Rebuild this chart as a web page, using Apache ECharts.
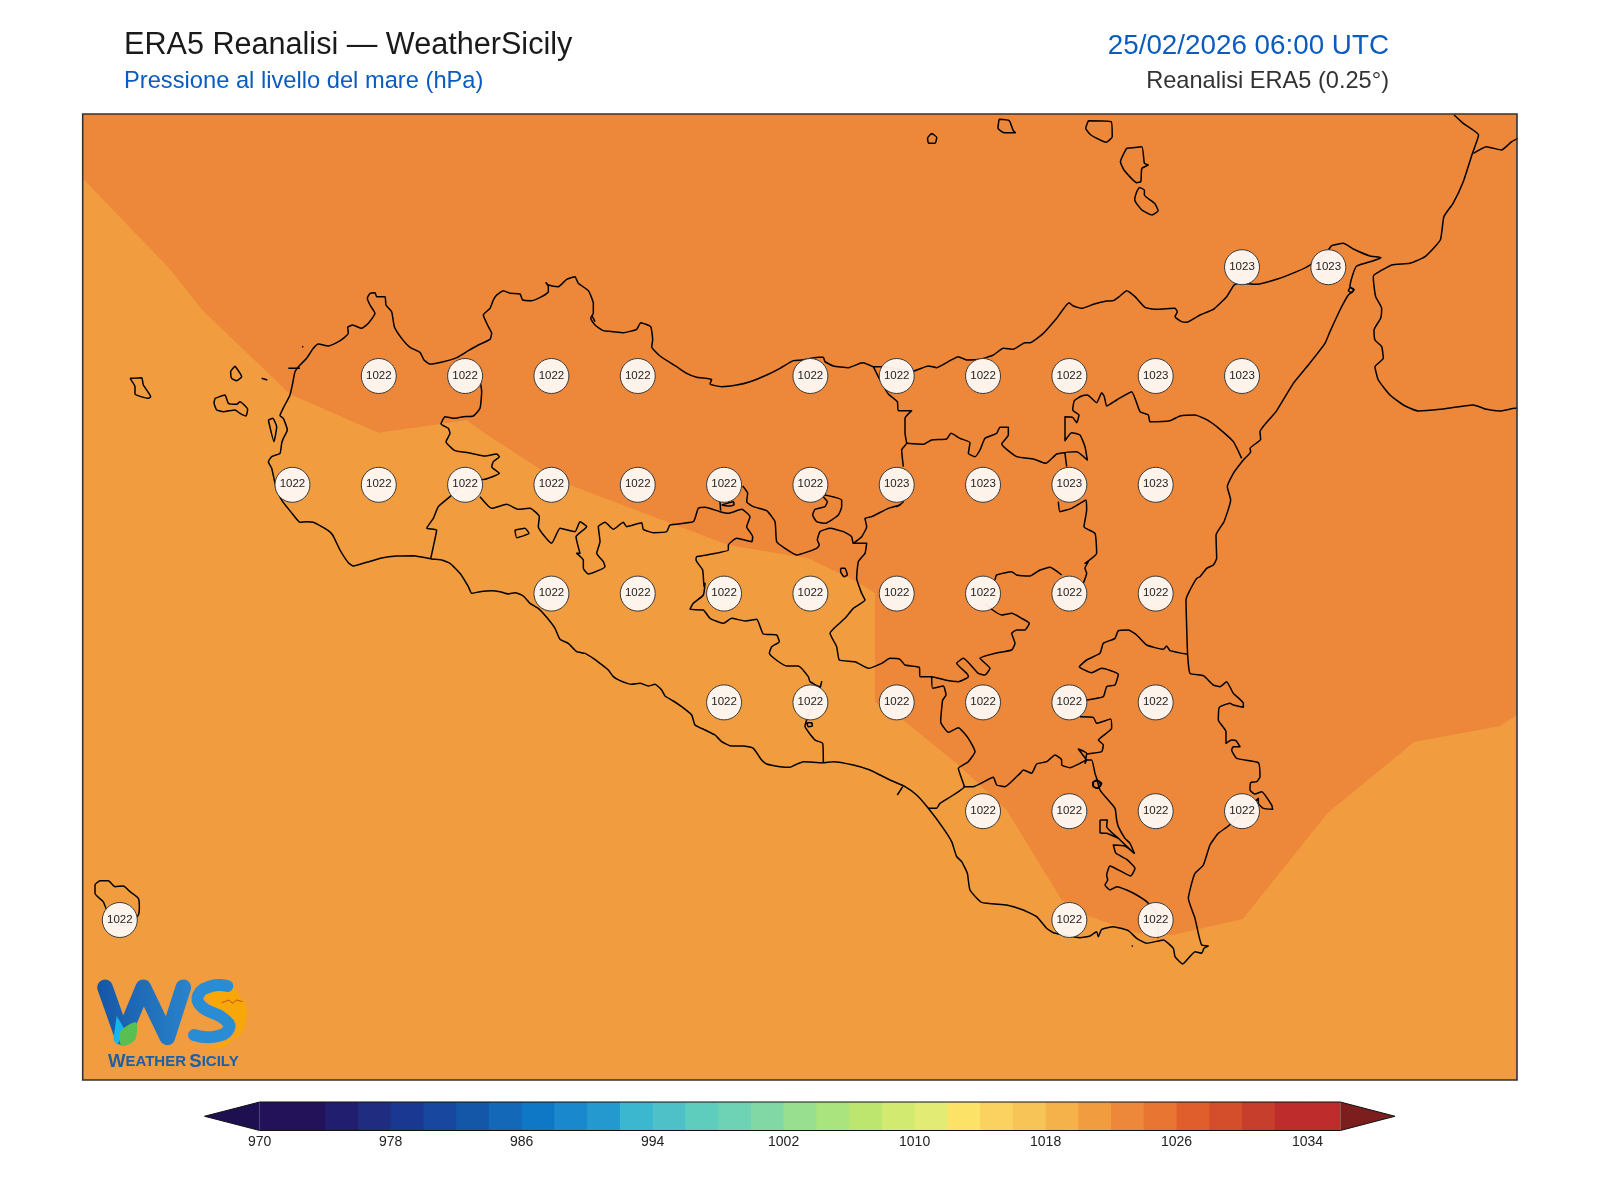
<!DOCTYPE html>
<html>
  <head>
    <meta charset="utf-8" />
    <title>ERA5 Reanalisi - WeatherSicily</title>
    <script src="https://cdn.jsdelivr.net/npm/echarts@6/dist/echarts.min.js"></script>
    <style>
      body { margin: 0; background: #fff; }
      #main { width: 1600px; height: 1200px; }
    </style>
  </head>
  <body>
    <div id="main"></div>
    <script type="text/javascript">
      // ---- values ----
      const stationLon = [15.25,15.5,
        12.75,13,13.25,13.5,14,14.25,14.5,14.75,15,15.25,
        12.5,12.75,13,13.25,13.5,13.75,14,14.25,14.5,14.75,15,
        13.25,13.5,13.75,14,14.25,14.5,14.75,15,
        13.75,14,14.25,14.5,14.75,15,
        14.5,14.75,15,15.25,
        12,14.75,15];
      const stationLat = [38.25,38.25,
        38,38,38,38,38,38,38,38,38,38,
        37.75,37.75,37.75,37.75,37.75,37.75,37.75,37.75,37.75,37.75,37.75,
        37.5,37.5,37.5,37.5,37.5,37.5,37.5,37.5,
        37.25,37.25,37.25,37.25,37.25,37.25,
        37,37,37,37,
        36.75,36.75,36.75];
      const stationHpa = [1023,1023,
        1022,1022,1022,1022,1022,1022,1022,1022,1023,1023,
        1022,1022,1022,1022,1022,1022,1022,1023,1023,1023,1023,
        1022,1022,1022,1022,1022,1022,1022,1022,
        1022,1022,1022,1022,1022,1022,
        1022,1022,1022,1022,
        1022,1022,1022];

      // colorbar
      const barLevels = [970,972,974,976,978,980,982,984,986,988,990,992,994,996,998,1000,1002,
        1004,1006,1008,1010,1012,1014,1016,1018,1020,1022,1024,1026,1028,1030,1032,1034];
      const barColors = ["#23125a","#23125a","#211e70","#1f2c80","#1a3892","#17479f","#1457a8","#1468b8","#0f78c6",
        "#1a88cd","#2499d0","#3bb7d0","#4dc0c8","#5fcdbe","#6ed2b5","#82d8a4","#98e090",
        "#aae47e","#bde66e","#d2ea70","#e2ec74","#fde268","#fbd25f","#f6c457","#f5b24b",
        "#f29c40","#ed8739","#e87532","#df5e2b","#d44e2c","#c83e2c","#be2c2b","#be2c2b"];
      const barTicks = [970,978,986,994,1002,1010,1018,1026,1034];
      const barLow = 966.63, barHigh = 1039.34, barTop = 1036;

      // ---- outlines, traced off crops of the map ----
      // a crop gives lon/lat back through its offset and stretch
      const lonAtZero = 11.65306, lonPerUnit = 1 / 345.3;
      const latAtZero = 38.86397, latPerUnit = 1 / 435.2;
      const A = [80,270,3,3], B = [480,270,3,3], C = [880,270,3,3], D = [1200,230,3,3], E = [420,540,3,3],
        F = [820,560,3,3], G = [880,740,3,3], H = [800,0,1.96,3], I = [80,850,3,3], W = [0,0,1,1];

      function trace(crop, flat) {
        const out = [];
        for (let i = 0; i < flat.length; i += 2) {
          out.push([
            lonAtZero + (crop[0] + flat[i] / crop[2]) * lonPerUnit,
            latAtZero - (crop[1] + flat[i + 1] / crop[3]) * latPerUnit,
          ]);
        }
        return out;
      }
      function ring(pts) { return pts.concat([pts[0]]); }

      // pressure band 1022-1024, everything else on the map is 1020-1022
      const contourBand = trace(W, [82.7,114,82.7,178.6,168.4,267.3,204,311.7,290,394,378.3,432.7,440,424,466.7,420,480,430,
        538.3,468,570,485,666.7,521.7,728.3,545,808.3,558.3,856.7,581.7,875,593.3,875,702,903.3,720,958.3,765,1006.7,810,
        1061.7,900,1080,913,1136.7,933,1173,935,1242.7,919,1327.6,813,1414,742,1500,726,1517,715,1517,114]);

      const sicilyCoast = [].concat(
        trace(A, [1000,857,950,858,905,864,860,877,820,888,805,878,780,840,758,795,745,782,725,770,700,757,680,755,660,757,640,735,620,710,608,695,590,660,
          575,595,565,575,575,560,600,550,605,520,610,505,622,480,610,445,600,437,612,410,630,375,638,340,645,305,660,285,680,265,700,235,715,222,745,228,770,218,
          790,205,805,190,803,172,818,165,845,175,865,160,885,130,870,105,862,85,870,70,885,68,890,80,915,80,918,105,935,125,943,170,965,205,990,232,1020,247,
          1032,270,1050,282,1090,275,1130,263,1165,242,1195,225,1230,208,1235,190,1225,170,1210,135,1230,115,1240,90]),
        trace(B, [50,75,70,62,90,70,120,72,128,90,155,92,185,80,205,65,205,50,198,38,205,45,235,50,260,28,285,20,295,40,325,62,340,100,340,130,332,145,345,165,370,182,400,185,430,188,
          470,178,482,158,512,170,518,210,515,230,540,258,590,290,620,310,650,322,695,328,690,342,725,350,770,345,810,335,860,315,900,295,940,272,965,270,1015,262,1030,262,
          1035,275,1060,288,1105,293,1140,280,1150,278,1180,290,1205,290]),
        trace(C, [100,303,145,288,170,293,210,272,235,260,260,270,300,268,340,255,370,235,400,238,435,218,450,218,490,190,530,145,567,98,580,108,605,115,640,103,680,93,700,92,720,78,740,62,
          765,80,795,112,830,118,885,115,892,125,885,140,905,155,920,157,960,135,1000,118,1040,80,1062,45]),
        trace(D, [115,160,170,163,230,148,290,125,330,105,385,60,395,47,430,40,460,57,510,78,543,83,520,92,470,108,458,135,450,170,462,180,445,195,420,240,390,305,375,340,325,405,280,460,
          228,545,180,605,182,628,150,655,152,665,130,690,100,730,82,770,92,810,72,875,48,915,50,985,40,1005,20,1015,0,1040]),
        trace(F, [1130,55,1105,100,1098,120,1100,200,1103,285,1110,340,1150,347,1180,375]),
        trace(D, [60,1370,80,1355,100,1390,130,1420,130,1432,100,1425,90,1420,58,1432,55,1470,78,1505,78,1540,95,1530,108,1532,120,1550,100,1550,95,1560]),
        trace(G, [1055,30,1070,55,1135,68,1140,110,1130,125,1112,128,1110,150,1125,162,1145,155,1175,195,1178,208,1150,205,1135,190,1135,175,1045,258,1015,280,990,315,970,375,945,400,935,430,
          925,475,945,535,955,580,965,615,985,618,972,625,965,640,945,635,908,672,885,650,880,625,850,600,800,610,770,595,745,572,700,560,665,568,655,590,650,575,630,588,600,593,520,578,
          500,565,470,530,430,510,380,495,305,487,270,450,262,400,245,365,230,350,215,305,190,265,145,205,110,165,75,140,30,120,0,105]),
        trace(F, [150,630,100,615,40,605,8,608]),
        trace(E, [1150,665,1125,675,1110,682,1080,680,1040,672,1025,660,1000,625,970,618,930,617,905,605,885,585,855,570,825,555,815,525,785,500,760,483,735,468,725,450,705,433,685,438,
          660,430,635,433,600,422,580,410,565,390,540,370,520,355,495,340,470,335,445,310,420,298,405,265,380,232,355,205,330,190,310,168,285,158,265,162,240,155,215,152,180,155,155,160,
          145,140,120,100,90,70,65,60,35,57,0,50])
      );

      const calabriaCoast = [].concat(
        trace(H, [1282,345,1300,370,1330,405,1318,460,1300,545,1280,610,1262,650,1255,720,1225,770,1195,790,1160,795,1125,825]),
        trace(D, [520,145,527,200,545,235,542,265,522,300,525,330,545,350,550,385,525,410,535,450,570,495,610,525,655,543,720,538,820,525,860,538,900,543,945,535,952,535])
      );
      const calabriaBorder = trace(H, [1320,460,1345,440,1375,450,1395,425,1407,415]);

      const islands = [
        trace(H, [258,400,268,412,265,430,252,430,250,415]),
        trace(H, [390,358,410,362,418,392,422,398,400,398,388,385]),
        trace(H, [565,362,610,365,612,410,600,427,570,405,560,385]),
        trace(H, [640,445,670,440,675,490,683,495,670,505,668,545,660,548,635,510,628,485]),
        trace(H, [665,562,675,570,675,585,695,610,702,632,690,645,670,630,656,600,660,575]),
        trace(A, [405,385,435,375,445,400,470,403,480,395,503,418,498,438,480,430,465,420,430,425,410,420,402,398]),
        trace(A, [465,288,485,320,470,332,455,325,452,305]),
        trace(A, [150,325,185,323,190,345,212,380,205,385,165,372,165,350]),
        trace(A, [565,450,578,445,590,470,582,515]),
        trace(I, [70,155,45,130,45,105,60,92,85,92,105,110,130,108,150,125,175,145,178,170,175,195,150,225,118,225,90,200]),
        // lakes
        trace(B, [1082,895,1095,895,1102,915,1092,920,1082,905]),
        trace(B, [105,780,135,775,147,790,110,803]),
        trace(B, [1035,675,1085,690,1085,710,1075,735,1035,760,1010,755,998,735,1005,718,1035,710,1042,695,1030,680]),
        trace(E, [1160,548,1175,548,1177,558,1165,560]),
        trace(F, [830,660,845,670,835,685,820,680,818,668]),
        trace(G, [640,125,655,122,662,135,650,145,640,138]),
        trace(B, [725,705,760,695,762,705,745,708]),
        trace(F, [800,600,775,567,800,580,795,610]),
        trace(D, [450,172,462,178,455,188,445,182]),
      ];

      const specks = [
        trace(A, [545,325,562,330]),
        trace(A, [625,295,660,295]),
        trace(A, [666,230,670,230]),
        trace(G, [755,618,759,618]),
        trace(B, [335,135,345,155]),
        trace(F, [232,705,248,680]),
      ];

      const borders = [
        trace(A, [1200,330,1205,365,1200,415,1180,438,1150,440,1125,445,1095,440,1083,462,1105,475,1110,490,1098,515,1125,542,1165,548,1215,558,1250,552,1258,560,1240,575,1235,590,1258,610,1215,628,1170,630]),
        trace(A, [1140,650,1110,680,1075,710,1060,745,1040,775,1070,780,1060,830,1052,866]),
        [].concat(
          trace(B, [0,680,35,715,80,703,115,718,150,715,178,740,175,770,215,820,240,775,285,785,300,755,320,770,288,800,300,850,290,850,310,870,310,895,325,912,375,890,370,875,350,850,360,815,355,770,
            375,757,400,778,430,757,440,770,485,758,490,778,520,788,560,785,570,765,640,755,655,715,675,712,720,725,745,730,785,718,810,740,800,770,818,800,815,815,770,805,745,825,745,840,680,855,650,860,648,870,668,900,672,950]),
          trace(E, [855,130,850,165,820,190,810,208,850,210,870,235,910,250,935,235,975,243,1010,238,1030,282,1070,285,1078,305,1055,320,1048,340,1100,378,1135,378,1165,410,1170,425,1200,440,1205,425,1200,445,1185,480,1155,558,1185,600,1208,610,1210,668])
        ),
        trace(B, [720,695,722,722]),
        [].concat(
          trace(B, [788,648,803,670,800,695,820,710,860,722,885,755,890,815,915,835,950,855,1010,835,1018,825,1012,810,1020,785,1050,775,1090,785,1115,800,1120,820,1160,820,1155,850,1135,875,1130,925]),
          trace(E, [1325,160,1335,180,1300,205,1275,235,1245,262,1230,280,1250,320,1258,360,1305,365,1345,385,1385,370,1410,355,1440,358]),
          trace(F, [255,315,298,322,300,350,335,350,375,360,415,365,445,350,440,340,410,310,430,295,475,340,495,345,510,325,480,295,525,280,575,270,585,250,575,220,590,210,615,210,628,190,605,175,575,160,545,165,518,150,495,130])
        ),
        [].concat(
          trace(B, [1120,820,1145,800,1160,770,1155,745,1175,740,1225,715,1260,705]),
          trace(C, [50,710,70,695,60,680])
        ),
        trace(F, [335,350,338,385,370,378,378,405,368,420,362,485,385,517,415,503,445,535,465,575,445,605,415,625,430,670,433,680,400,705,360,730,350,745,324,745]),
        [].concat(
          trace(F, [430,680,460,680,520,652,530,675,555,680,600,640,610,630,635,640,650,612,680,605,705,585,725,600,725,615,750,623,780,610,800,600,815,600,825,640,830,655,840,690,860,715,885,745,890,780]),
          trace(G, [715,260,735,295,750,310,763,340])
        ),
        trace(F, [800,582,845,575,850,555,835,540,875,505,872,477,830,490,820,472,780,470]),
        trace(F, [800,420,850,410,860,380,885,375,895,343,845,325,815,338,778,320,800,300,840,280,850,250,885,235,895,212,925,210,950,225,980,255,1030,268,1040,258,1050,272,1103,283]),
        trace(F, [525,60,530,45,575,35,590,45,630,48,660,30,690,22,725,45]),
        [].concat(
          trace(F, [790,70,800,40,795,25,805,5]),
          trace(C, [615,880,650,850,645,790,612,770,620,720,618,690,575,715,540,725,535,695])
        ),
        [].concat(
          trace(B, [1180,290,1200,330,1225,372]),
          trace(C, [52,395,55,422,95,422,75,445,75,490,80,520,65,540,70,590])
        ),
        trace(C, [80,520,130,523,155,510,200,507,213,490,240,505,270,518,265,550,285,560,300,540,315,505,350,490,360,472,385,472,385,495,365,522,410,560,460,567,497,580,530,552,555,548]),
        trace(C, [560,590,555,548,590,545,622,570,615,530,600,495,575,488,555,512,555,440,578,442,590,458,597,435,578,420,583,392,605,378,622,375,650,398,665,368,673,380,680,408,710,390,755,365,
          780,425,805,435,810,455,870,452,900,438,945,435,985,452,1020,478,1060,515,1085,565]),
        trace(G, [660,240,682,240,680,260,715,295,763,340,735,318,700,315,708,340,740,358,765,385,752,408,725,395,690,378,680,405,683,420,675,435,690,450,710,440,740,450,770,465,800,485,830,520,835,595]),
        trace(G, [660,240,660,278,680,280,715,295]),
      ];

      const allLines = [sicilyCoast.concat([sicilyCoast[0]]), calabriaCoast, calabriaBorder]
        .concat(islands.map(ring), specks, borders);

      // ---- chart ----
      const FONT = "Liberation Sans";
      const mapLonMin = 11.89256, mapLonMax = 16.04636, mapLatMin = 36.38235, mapLatMax = 38.60202;
      const lowBand = "#f29c40", highBand = "#ed8739";

      const myChart = echarts.init(document.getElementById("main"));

      const lineSeries = allLines.map(function (pts) {
        return {
          type: "line",
          data: pts,
          xAxisIndex: 0,
          yAxisIndex: 0,
          showSymbol: false,
          silent: true,
          smooth: 0.15,
          z: 3,
          lineStyle: { color: "#000", width: 1.5, join: "round" },
        };
      });

      const stations = stationLon.map(function (lon, i) {
        return [lon, stationLat[i], stationHpa[i]];
      });

      const option = {
        animation: false,
        backgroundColor: "#fff",
        title: [
          { text: "ERA5 Reanalisi — WeatherSicily", left: 124, top: 30, padding: 0,
            textStyle: { fontFamily: FONT, fontSize: 30.6, fontWeight: "normal", color: "#1a1a1a" } },
          { text: "Pressione al livello del mare (hPa)", left: 124, top: 69, padding: 0,
            textStyle: { fontFamily: FONT, fontSize: 23.7, fontWeight: "normal", color: "#0b5cbe" } },
          { text: "25/02/2026 06:00 UTC", right: 211, top: 32, padding: 0,
            textStyle: { fontFamily: FONT, fontSize: 27.8, fontWeight: "normal", color: "#0b5cbe" } },
          { text: "Reanalisi ERA5 (0.25°)", right: 211, top: 69, padding: 0,
            textStyle: { fontFamily: FONT, fontSize: 23.6, fontWeight: "normal", color: "#333" } },
        ],
        grid: [
          { left: 82.7, top: 114, width: 1434.3, height: 966, backgroundColor: lowBand, show: true, borderWidth: 0 },
          { left: 204.5, top: 1102, width: 1190.5, height: 28.5 },
        ],
        xAxis: [
          { type: "value", gridIndex: 0, min: mapLonMin, max: mapLonMax, show: false },
          { type: "value", gridIndex: 1, min: barLow, max: barHigh,
            axisLine: { show: false }, axisTick: { show: false }, splitLine: { show: false },
            axisLabel: { customValues: barTicks, fontFamily: FONT, fontSize: 14, color: "#222", margin: 5,
              formatter: function (v) { return String(v); } } },
        ],
        yAxis: [
          { type: "value", gridIndex: 0, min: mapLatMin, max: mapLatMax, show: false },
          { type: "value", gridIndex: 1, min: 0, max: 1, show: false },
        ],
        series: [
          {
            type: "custom",
            silent: true,
            xAxisIndex: 0,
            yAxisIndex: 0,
            z: 1,
            data: [contourBand[0]],
            renderItem: function (params, api) {
              return {
                type: "polygon",
                shape: { points: contourBand.map(function (p) { return api.coord(p); }) },
                style: { fill: highBand },
              };
            },
          },
        ].concat(lineSeries, [
          {
            type: "scatter",
            xAxisIndex: 0,
            yAxisIndex: 0,
            z: 5,
            symbol: "circle",
            symbolSize: 35,
            silent: true,
            data: stations,
            itemStyle: { color: "rgba(255,250,246,0.94)", borderColor: "#3a3a3a", borderWidth: 1, opacity: 1 },
            label: {
              show: true,
              position: "inside",
              fontFamily: FONT,
              fontSize: 11.5,
              color: "#222",
              offset: [0, -0.5],
              formatter: function (p) { return p.value[2]; },
            },
          },
          // colorbar cells, each runs a hair into the next so no seam shows
          {
            type: "custom",
            silent: true,
            xAxisIndex: 1,
            yAxisIndex: 1,
            z: 2,
            encode: { x: [0, 1] },
            data: barLevels.map(function (lv, i) { return [lv, lv + 2, i]; }),
            renderItem: function (params, api) {
              const a = api.coord([api.value(0), 1]);
              const b = api.coord([api.value(1), 0]);
              const last = api.value(2) === barLevels.length - 1;
              return {
                type: "rect",
                shape: { x: a[0], y: a[1], width: b[0] - a[0] + (last ? 0 : 1), height: b[1] - a[1] },
                style: { fill: barColors[api.value(2)] },
              };
            },
          },
          // colorbar ends + outline
          {
            type: "custom",
            silent: true,
            xAxisIndex: 1,
            yAxisIndex: 1,
            z: 3,
            data: [[barLow, 0.5]],
            renderItem: function (params, api) {
              const c = function (x, y) { return api.coord([x, y]); };
              return {
                type: "group",
                children: [
                  { type: "polygon", shape: { points: [c(barLow, 0.5), c(970, 1), c(970, 0)] }, style: { fill: "#1e1050" } },
                  { type: "polygon", shape: { points: [c(barHigh, 0.5), c(barTop, 1), c(barTop, 0)] }, style: { fill: "#7c1e1e" } },
                  {
                    type: "polygon",
                    shape: { points: [c(barLow, 0.5), c(970, 1), c(barTop, 1), c(barHigh, 0.5), c(barTop, 0), c(970, 0)] },
                    style: { fill: "none", stroke: "#111", lineWidth: 1 },
                  },
                ],
              };
            },
          },
        ]),
        graphic: [
          // map frame
          { type: "rect", silent: true, z: 20, shape: { x: 82.7, y: 114, width: 1434.3, height: 966 },
            style: { fill: "transparent", stroke: "#333", lineWidth: 1.6 } },
          // logo, drawn in the 3x crop's units
          {
            type: "group", x: 80, y: 850, scaleX: 1 / 3, scaleY: 1 / 3, z: 20, silent: true,
            children: [
              { type: "polyline", shape: { points: [[75,412],[128,562],[190,412],[262,562],[310,412]] },
                style: { fill: "none", lineWidth: 47, lineCap: "round", lineJoin: "round",
                  stroke: new echarts.graphic.LinearGradient(0, 0, 1, 0, [{ offset: 0, color: "#1556a6" }, { offset: 1, color: "#2a84cc" }]) } },
              { type: "polygon", shape: { points: [[110,497],[135,540],[112,585],[100,570]] }, style: { fill: "#16b6ea" } },
              { type: "polygon", shape: { points: [[168,517],[165,570],[125,587],[120,545]], smooth: 0.3 }, style: { fill: "#5abf52" } },
              { type: "polygon", shape: { points: [[440,392],[500,470],[490,540],[430,590],[385,597],[460,560],[470,520],[400,470],[375,435],[420,420]], smooth: 0.2 }, style: { fill: "#f7a808" } },
              { type: "polyline", shape: { points: [[442,408],[395,408],[355,435],[365,470],[430,505],[447,535],[405,560],[342,555]], smooth: 0.5 },
                style: { fill: "none", stroke: "#2a8dd4", lineWidth: 36, lineCap: "round", lineJoin: "round" } },
              { type: "polyline", shape: { points: [[425,458],[448,450],[457,460],[470,450],[488,455]] }, style: { fill: "none", stroke: "#c8501e", lineWidth: 3 } },
            ],
          },
          {
            type: "text", x: 108, y: 1052, z: 20, silent: true,
            style: {
              text: "{a|W}{b|EATHER} {a|S}{b|ICILY}",
              rich: {
                a: { fontFamily: FONT, fontWeight: "bold", fontSize: 18.5, fill: "#1b5fa8" },
                b: { fontFamily: FONT, fontWeight: "bold", fontSize: 15, fill: "#1b5fa8" },
              },
            },
          },
        ],
      };

      myChart.setOption(option);
    </script>
  </body>
</html>
